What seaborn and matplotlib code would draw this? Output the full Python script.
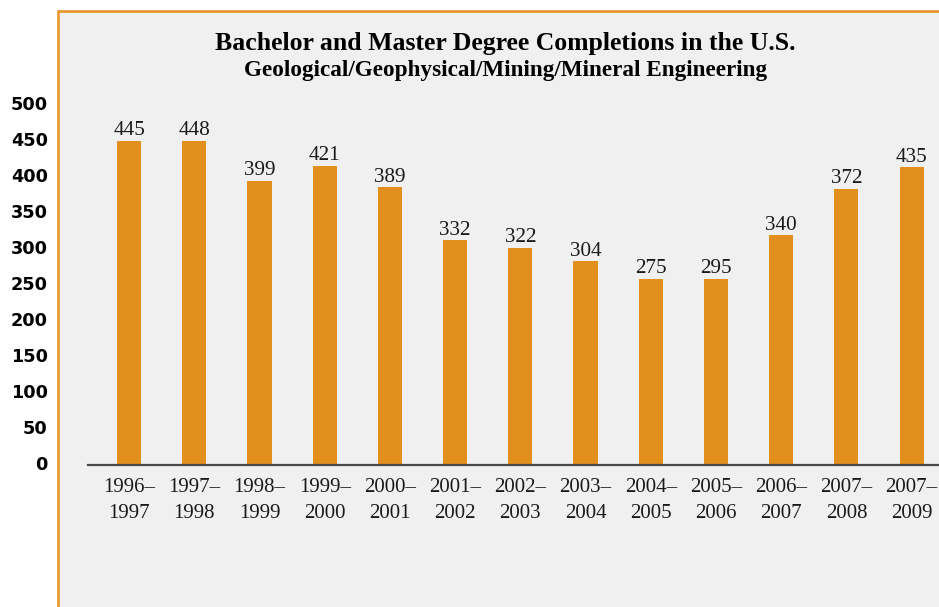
import matplotlib
matplotlib.use("Agg")
import matplotlib.pyplot as plt
import matplotlib.patches as patches
import matplotlib.transforms as mtransforms
import pandas as pd
import seaborn as sns

# data (bar heights as drawn, labels as printed)
years = ['1996–\n1997', '1997–\n1998', '1998–\n1999', '1999–\n2000', '2000–\n2001',
         '2001–\n2002', '2002–\n2003', '2003–\n2004', '2004–\n2005', '2005–\n2006',
         '2006–\n2007', '2007–\n2008', '2007–\n2009']
bar_heights = [451, 451, 395, 416, 386, 312, 302, 283, 259, 259, 319, 384, 414]
value_labels = [445, 448, 399, 421, 389, 332, 322, 304, 275, 295, 340, 372, 435]
y_ticks = [0, 50, 100, 150, 200, 250, 300, 350, 400, 450, 500]

df = pd.DataFrame({'period': years, 'completions': bar_heights})

sns.set_style('white')
serif = ['Liberation Serif', 'DejaVu Serif']

fig = plt.figure(figsize=(9.39, 6.07), dpi=100)
fig.patch.set_facecolor('white')

# orange framed panel behind the chart
panel = patches.Rectangle((58 / 939, -0.1), 1.2, 1 - 11 / 607 + 0.1,
                          transform=fig.transFigure, facecolor='#F0F0F0',
                          edgecolor='#E8952A', linewidth=1.9, zorder=-10)
fig.patches.append(panel)

ax = fig.add_axes([88 / 939, (607 - 464.5) / 607, 1 - 88 / 939, 359 / 607])
ax.patch.set_visible(False)

sns.barplot(data=df, x='period', y='completions', color='#E28F1E',
            saturation=1, width=0.37, linewidth=0, ax=ax)

ax.set_xlim(-0.63, 12.42)
ax.set_ylim(0, 500)
ax.set_xlabel('')
ax.set_ylabel('')

# value labels above the bars
for i, lab in enumerate(value_labels):
    ax.annotate(str(lab), (i, bar_heights[i]), xytext=(0, 4), textcoords='offset points',
                ha='center', va='baseline', fontsize=15.2, family=serif, color='#1a1a1a')

ax.set_yticks(y_ticks)
ax.set_yticklabels([str(t) for t in y_ticks], fontsize=12.7, fontweight='bold',
                   family=['DejaVu Sans'], color='black')
ax.tick_params(axis='y', length=0, pad=29)
shift = mtransforms.ScaledTranslation(0, 2 / 100, fig.dpi_scale_trans)
for t in ax.get_yticklabels():
    t.set_transform(t.get_transform() + shift)

ax.set_xticks(range(len(years)))
ax.set_xticklabels(years, fontsize=15, family=serif, color='#1a1a1a', linespacing=1.45)
ax.tick_params(axis='x', length=0, pad=10)

for s in ['top', 'right', 'left']:
    ax.spines[s].set_visible(False)
ax.spines['bottom'].set_color('#4a4a4a')
ax.spines['bottom'].set_linewidth(1.6)

fig.text(505.5 / 939, 1 - 50 / 607, 'Bachelor and Master Degree Completions in the U.S.',
         ha='center', va='baseline', fontsize=18.5, fontweight='bold', family=serif,
         color='black')
fig.text(506 / 939, 1 - 76 / 607, 'Geological/Geophysical/Mining/Mineral Engineering',
         ha='center', va='baseline', fontsize=16.7, fontweight='bold', family=serif,
         color='black')

fig.savefig('out.png', dpi=100)
